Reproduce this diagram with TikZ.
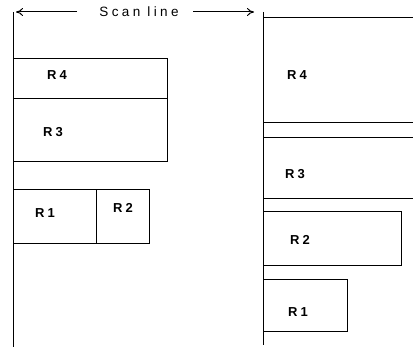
\documentclass[tikz,border=0pt]{standalone}
\usepackage{fontspec}
\setmainfont{Liberation Sans}
\usetikzlibrary{arrows.meta}
\newcommand{\rlab}[1]{R\hspace{3pt}#1}
\begin{document}
\begin{tikzpicture}[x=1pt,y=-1pt,
  ln/.style={line width=1pt,black},
  lbl/.style={font=\fontsize{13}{15}\selectfont\bfseries, inner sep=0pt},
  arr/.style={ln,-{To[length=7pt,width=8pt]}}]
\useasboundingbox (0,0) rectangle (413,350);
% title arrows
\node[lbl, font=\fontsize{13.5}{15}\selectfont] (title) at (139,12) {\addfontfeature{LetterSpace=25}Scan line};
\coordinate (la) at (16,12);
\coordinate (lb) at (77,12);
\coordinate (rb) at (193,12);
\coordinate (ra) at (254,12);
\draw[arr] (lb) -- (la);
\draw[arr] (rb) -- (ra);
% left panel
\draw[ln] (13,12) -- (13,347);
\draw[ln] (13,59) rectangle (167,99);
\draw[ln] (13,99) rectangle (167,162);
\draw[ln] (13,190) rectangle (96,244);
\draw[ln] (96,190) rectangle (149,244);
\node[lbl] (l4) at (57,75) {\rlab{4}};
\node[lbl] (l3) at (53,132) {\rlab{3}};
\node[lbl] (l1) at (45,213) {\rlab{1}};
\node[lbl] (l2) at (123,208) {\rlab{2}};
% right panel
\draw[ln] (263,12) -- (263,345);
\draw[ln] (263,18) -- (413,18);
\draw[ln] (263,123) -- (413,123);
\draw[ln] (263,138) -- (413,138);
\draw[ln] (263,199) -- (413,199);
\draw[ln] (263,212) rectangle (401,266);
\draw[ln] (263,280) rectangle (347,332);
\node[lbl] (r4) at (297,75) {\rlab{4}};
\node[lbl] (r3) at (295,174) {\rlab{3}};
\node[lbl] (r2) at (300,240) {\rlab{2}};
\node[lbl] (r1) at (298,312) {\rlab{1}};
\end{tikzpicture}
\end{document}
